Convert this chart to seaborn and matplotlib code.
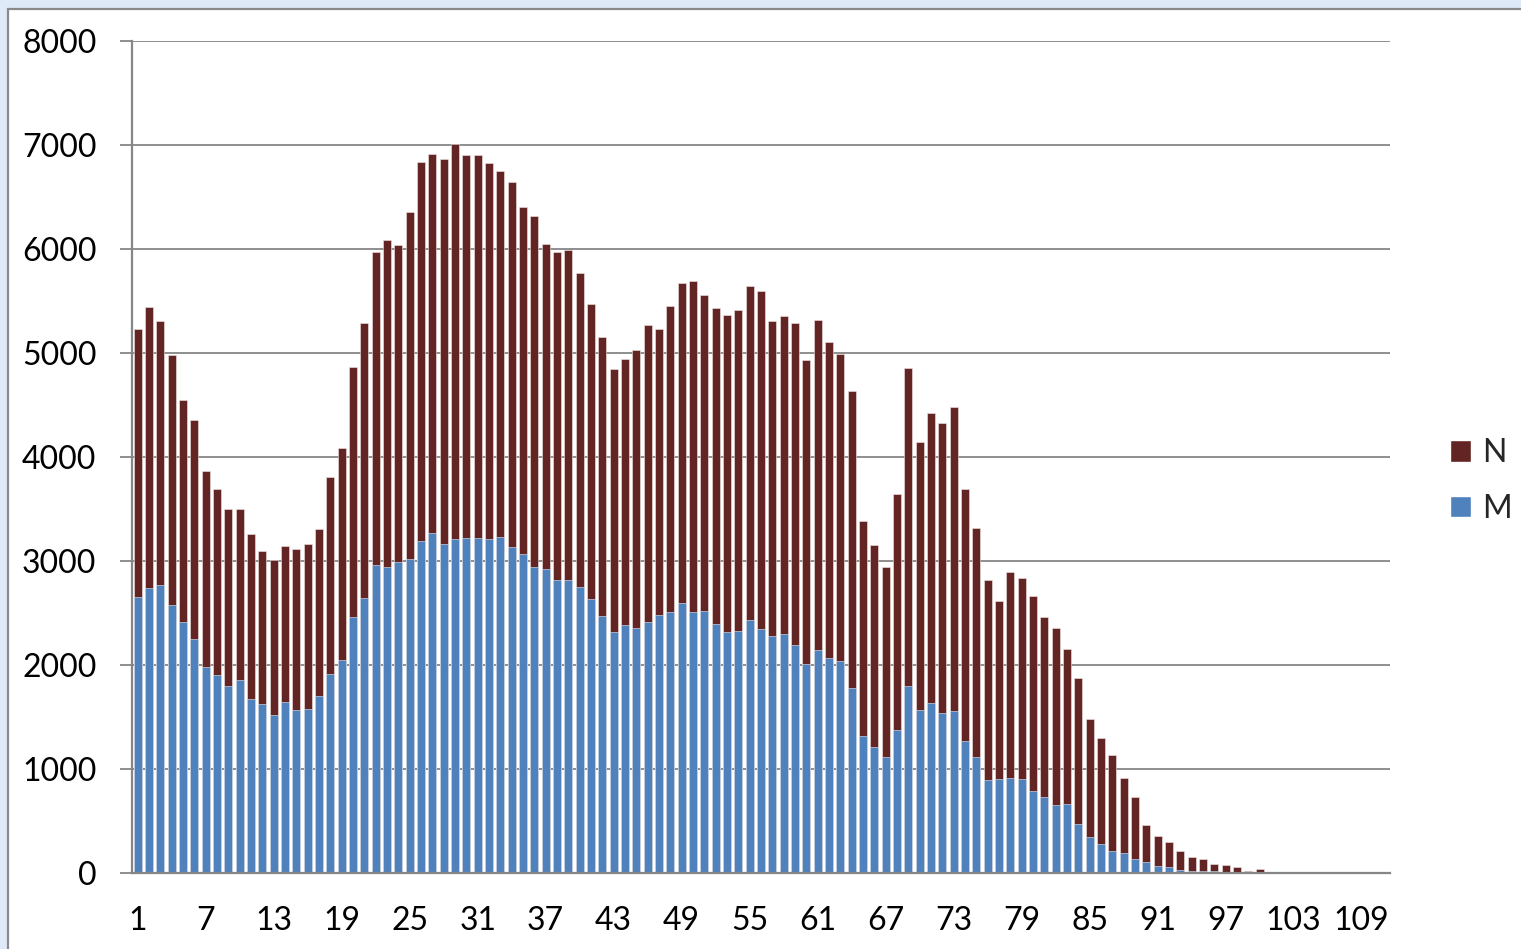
import numpy as np
import pandas as pd
import seaborn as sns
from matplotlib import pyplot as plt
from matplotlib.patches import Patch, Rectangle

# values (M = lower blue part, N = dark red part on top)
categories = list(range(1, 112))
m_values = [2650, 2740, 2765, 2580, 2415, 2250, 1980, 1905, 1795, 1855,
            1670, 1625, 1515, 1640, 1565, 1575, 1705, 1915, 2045, 2460,
            2640, 2965, 2940, 2990, 3020, 3195, 3265, 3160, 3210, 3220,
            3220, 3210, 3235, 3135, 3065, 2940, 2925, 2820, 2820, 2750,
            2635, 2470, 2315, 2380, 2360, 2415, 2485, 2510, 2600, 2510,
            2520, 2395, 2320, 2330, 2435, 2350, 2280, 2300, 2195, 2005,
            2140, 2065, 2040, 1780, 1315, 1210, 1115, 1375, 1795, 1570,
            1630, 1540, 1555, 1270, 1115, 890, 905, 910, 905, 790,
            735, 655, 665, 475, 345, 280, 215, 190, 138, 108,
            70, 60, 32, 22, 22, 20, 10, 6, 2, 4,
            1, 1, 0, 0, 0, 0, 0, 0, 0, 0,
            0]
n_values = [2585, 2705, 2545, 2405, 2135, 2105, 1885, 1790, 1705, 1645,
            1585, 1470, 1490, 1500, 1555, 1590, 1605, 1895, 2040, 2405,
            2645, 3005, 3150, 3050, 3340, 3640, 3650, 3705, 3800, 3685,
            3680, 3620, 3515, 3505, 3335, 3375, 3125, 3150, 3170, 3015,
            2835, 2685, 2535, 2560, 2670, 2850, 2745, 2945, 3070, 3180,
            3035, 3035, 3050, 3085, 3210, 3250, 3030, 3060, 3095, 2925,
            3175, 3045, 2950, 2850, 2070, 1945, 1830, 2265, 3065, 2575,
            2790, 2790, 2930, 2425, 2200, 1930, 1715, 1985, 1930, 1875,
            1725, 1700, 1490, 1400, 1140, 1020, 915, 720, 592, 357,
            285, 240, 183, 135, 113, 67, 70, 48, 20, 31,
            9, 5, 2, 1, 1, 1, 1, 2, 2, 1,
            0]
y_ticks = [0, 1000, 2000, 3000, 4000, 5000, 6000, 7000, 8000]

N_COLOR = "#632523"
M_COLOR = "#4f81bd"
GRID = "#868686"

df = pd.DataFrame({"cat": categories, "M": m_values, "N": n_values})
df["total"] = df["M"] + df["N"]

sns.set_style("white")
plt.rcParams["font.family"] = ["Lato", "DejaVu Sans"]

fig = plt.figure(figsize=(15.21, 9.49), dpi=100)
fig.patch.set_facecolor("#deeaf7")
fig.patches.append(Rectangle((8 / 1521, -0.1), 1.2, 1.1 - 9 / 949, transform=fig.transFigure,
                             facecolor="white", edgecolor="#8a8a8a", linewidth=1.6, zorder=-10))

ax = fig.add_axes([132 / 1521, 76 / 949, 1258 / 1521, 832 / 949])
ax.set_facecolor("none")

sns.barplot(data=df, x="cat", y="total", color=N_COLOR, width=0.72, saturation=1,
            edgecolor="#f2e6e6", linewidth=0.4, ax=ax)
sns.barplot(data=df, x="cat", y="M", color=M_COLOR, width=0.72, saturation=1,
            edgecolor="#e6eef8", linewidth=0.4, ax=ax)

ax.set_xlim(-0.5, len(categories) - 0.5)
ax.set_ylim(0, 8000)
ax.set_yticks(y_ticks)
ax.set_yticklabels([str(v) for v in y_ticks])
ax.yaxis.grid(True, color=GRID, linewidth=1.3)
ax.set_axisbelow(True)

label_pos = list(range(0, len(categories), 6))
ax.set_xticks(label_pos)
ax.set_xticklabels([str(categories[i]) for i in label_pos])
ax.set_xticks(np.arange(-0.5, len(categories), 1), minor=True)
ax.tick_params(axis="x", which="major", length=0, pad=24, labelsize=23, colors="black")
ax.tick_params(axis="x", which="minor", length=8, width=1.3, color=GRID, direction="out")
ax.tick_params(axis="y", which="major", length=8.6, width=1.3, color=GRID, pad=17,
               labelsize=23, labelcolor="black", direction="out", left=True)
ax.set_xlabel("")
ax.set_ylabel("")

for side in ["top", "right"]:
    ax.spines[side].set_visible(False)
for side in ["left", "bottom"]:
    ax.spines[side].set_color(GRID)
    ax.spines[side].set_linewidth(1.6)

handles = [Patch(facecolor=N_COLOR, label="N"), Patch(facecolor=M_COLOR, label="M")]
fig.legend(handles=handles, loc="center left", bbox_to_anchor=(1450 / 1521, 1 - 481 / 949),
           frameon=False, fontsize=23, handlelength=0.65, handleheight=0.65,
           handletextpad=0.35, labelspacing=0.8, borderpad=0, borderaxespad=0)

fig.savefig("out.png", dpi=100, facecolor=fig.get_facecolor())
